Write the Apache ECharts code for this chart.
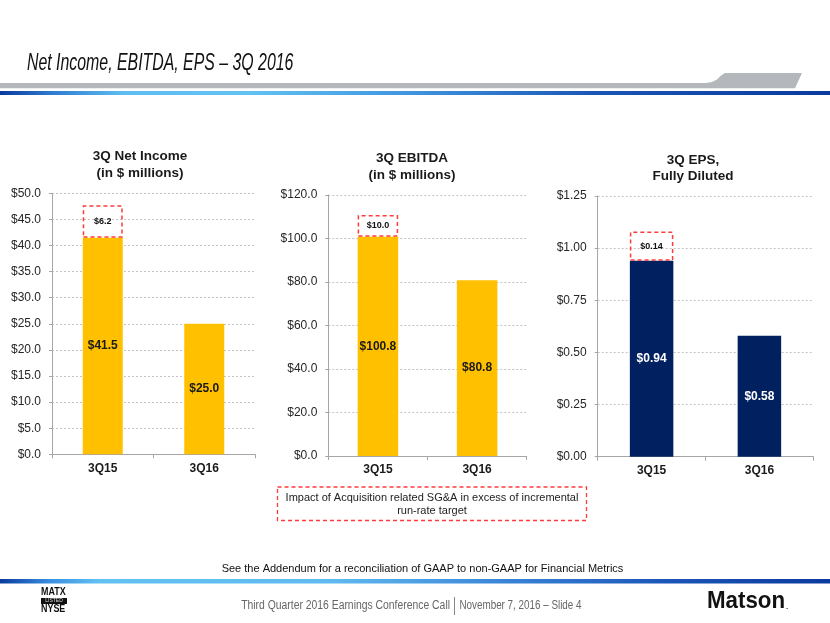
<!DOCTYPE html>
<html>
<head>
<meta charset="utf-8">
<script src="https://cdn.jsdelivr.net/npm/echarts@6/dist/echarts.min.js"></script>
<style>
html,body{margin:0;padding:0;background:#fff;}
#c{width:830px;height:623px;}
</style>
</head>
<body>
<div id="c"></div>
<script>
// ---- data ----
const categories = ['3Q15', '3Q16'];
const netIncome = [41.5, 25.0];
const netIncomeImpact = [6.2, null];
const ebitda = [100.8, 80.8];
const ebitdaImpact = [10.0, null];
const eps = [0.94, 0.58];
const epsImpact = [0.14, null];

const niTicks = ['$0.0','$5.0','$10.0','$15.0','$20.0','$25.0','$30.0','$35.0','$40.0','$45.0','$50.0'];
const ebitdaTicks = ['$0.0','$20.0','$40.0','$60.0','$80.0','$100.0','$120.0'];
const epsTicks = ['$0.00','$0.25','$0.50','$0.75','$1.00','$1.25'];

const chartTitles = ['3Q Net Income\n(in $ millions)', '3Q EBITDA\n(in $ millions)', '3Q EPS,\nFully Diluted'];

// ---- styles ----
const FONT = '"Liberation Sans", Arial, Helvetica, sans-serif';
const GOLD = '#FFC000';
const NAVY = '#002060';
const RED = '#FF3B3B';
const AXIS_GRAY = '#a6a6a6';

function xAxis(gi) {
  return {
    type: 'category', gridIndex: gi, data: categories,
    axisLine: {show: true, lineStyle: {color: AXIS_GRAY, width: 1}},
    axisTick: {show: true, length: 4, lineStyle: {color: AXIS_GRAY}},
    axisLabel: {fontFamily: FONT, fontSize: 12, fontWeight: 'bold', color: '#1a1a1a', margin: 8}
  };
}
function yAxis(gi, ticks, step) {
  return {
    type: 'value', gridIndex: gi, min: 0, max: step * (ticks.length - 1), interval: step,
    axisLine: {show: true, lineStyle: {color: AXIS_GRAY, width: 1}},
    axisTick: {show: true, length: 3, lineStyle: {color: AXIS_GRAY}},
    splitLine: {show: true, lineStyle: {color: '#c4c4c4', type: [2, 2], width: 1}},
    axisLabel: {fontFamily: FONT, fontSize: 12, color: '#262626', margin: 11,
      formatter: function (v) { const i = Math.round(v / step); return ticks[i]; }}
  };
}
function mainSeries(gi, data, stack, width, digits, labelColor, color) {
  return {
    type: 'bar', xAxisIndex: gi, yAxisIndex: gi, stack: stack, data: data, barWidth: width,
    itemStyle: {color: color},
    label: {show: true, position: 'inside', fontFamily: FONT, fontSize: 12, fontWeight: 'bold',
      color: labelColor, textBorderWidth: 0,
      formatter: function (p) { return '$' + Number(p.value).toFixed(digits); }}
  };
}
function impactSeries(gi, data, stack, width, digits) {
  return {
    type: 'bar', xAxisIndex: gi, yAxisIndex: gi, stack: stack, data: data, barWidth: width,
    itemStyle: {color: 'rgba(255,255,255,0)', borderColor: RED, borderWidth: 1.5, borderType: [4, 3]},
    label: {show: true, position: 'inside', fontFamily: FONT, fontSize: 9, fontWeight: 'bold',
      color: '#111', textBorderWidth: 0,
      formatter: function (p) { return p.value == null ? '' : '$' + Number(p.value).toFixed(digits); }}
  };
}

const chart = echarts.init(document.getElementById('c'), null, {renderer: 'canvas'});

const option = {
  animation: false,
  backgroundColor: '#ffffff',
  textStyle: {fontFamily: FONT},
  title: [
    {text: chartTitles[0], left: 135, top: 143, textAlign: 'center',
      textStyle: {fontFamily: FONT, fontSize: 13.5, fontWeight: 'bold', color: '#1a1a1a', lineHeight: 17}},
    {text: chartTitles[1], left: 407, top: 145, textAlign: 'center',
      textStyle: {fontFamily: FONT, fontSize: 13.5, fontWeight: 'bold', color: '#1a1a1a', lineHeight: 17}},
    {text: chartTitles[2], left: 688, top: 147, textAlign: 'center',
      textStyle: {fontFamily: FONT, fontSize: 13.5, fontWeight: 'bold', color: '#1a1a1a', lineHeight: 16}}
  ],
  grid: [
    {left: 52, top: 193.3, width: 203, height: 261},
    {left: 328.3, top: 195, width: 198.4, height: 261},
    {left: 597.7, top: 196, width: 215.6, height: 260.7}
  ],
  xAxis: [xAxis(0), xAxis(1), xAxis(2)],
  yAxis: [yAxis(0, niTicks, 5), yAxis(1, ebitdaTicks, 20), yAxis(2, epsTicks, 0.25)],
  series: [
    mainSeries(0, netIncome, 'ni', 40, 1, '#1a1a1a', GOLD),
    impactSeries(0, netIncomeImpact, 'ni', 40, 1),
    mainSeries(1, ebitda, 'eb', 40.5, 1, '#1a1a1a', GOLD),
    impactSeries(1, ebitdaImpact, 'eb', 40.5, 1),
    mainSeries(2, eps, 'ep', 43.5, 2, '#ffffff', NAVY),
    impactSeries(2, epsImpact, 'ep', 43.5, 2)
  ],
  graphic: [
    // header title
    {type: 'text', x: 27, y: 64, scaleX: 0.69, scaleY: 1, silent: true,
      style: {text: 'Net Income, EBITDA, EPS \u2013 3Q 2016', x: 0, y: 0, fill: '#111',
        font: 'italic 23px ' + FONT, textAlign: 'left', align: 'left', textVerticalAlign: 'middle', verticalAlign: 'middle'}},
    // gray header band
    {type: 'polygon', silent: true,
      shape: {points: [[0, 83], [706, 83], [712, 82], [717, 79.5], [721, 75.5], [725, 73], [802, 73], [795, 88.3], [0, 88.3]]},
      style: {fill: '#b4b8bc'}},
    // blue header line
    {type: 'rect', silent: true, shape: {x: 0, y: 91, width: 830, height: 4},
      style: {fill: {type: 'linear', x: 0, y: 0, x2: 1, y2: 0, colorStops: [
        {offset: 0, color: '#0a3a9e'}, {offset: 0.06, color: '#2d79d0'}, {offset: 0.15, color: '#5fbef0'},
        {offset: 0.3, color: '#62c2f2'}, {offset: 0.5, color: '#3f93de'}, {offset: 0.72, color: '#1a55b6'},
        {offset: 1, color: '#0b3a9e'}]}}},
    // legend box
    {type: 'rect', silent: true, shape: {x: 277.5, y: 487, width: 309, height: 33.5},
      style: {fill: 'rgba(0,0,0,0)', stroke: RED, lineWidth: 1.3, lineDash: [4, 3]}},
    {type: 'text', silent: true,
      style: {text: 'Impact of Acquisition related SG&A in excess of incremental', x: 432, y: 497.5, fill: '#222',
        font: '11px ' + FONT, textAlign: 'center', align: 'center', textVerticalAlign: 'middle', verticalAlign: 'middle'}},
    {type: 'text', silent: true,
      style: {text: 'run-rate target', x: 432, y: 511, fill: '#222',
        font: '11px ' + FONT, textAlign: 'center', align: 'center', textVerticalAlign: 'middle', verticalAlign: 'middle'}},
    // note
    {type: 'text', silent: true,
      style: {text: 'See the Addendum for a reconciliation of GAAP to non-GAAP for Financial Metrics', x: 422.5, y: 569, fill: '#111',
        font: '11px ' + FONT, textAlign: 'center', align: 'center', textVerticalAlign: 'middle', verticalAlign: 'middle'}},
    // footer blue line
    {type: 'rect', silent: true, shape: {x: 0, y: 579, width: 830, height: 4.5},
      style: {fill: {type: 'linear', x: 0, y: 0, x2: 1, y2: 0, colorStops: [
        {offset: 0, color: '#0a3a9e'}, {offset: 0.06, color: '#3a8ee0'}, {offset: 0.12, color: '#62c2f2'},
        {offset: 0.4, color: '#5fbaf0'}, {offset: 0.6, color: '#3a86d8'}, {offset: 0.8, color: '#1c56b8'},
        {offset: 1, color: '#0b3a9e'}]}}},
    // footer text
    {type: 'text', x: 450, y: 606, scaleX: 0.865, silent: true,
      style: {text: 'Third Quarter 2016 Earnings Conference Call', x: 0, y: 0, fill: '#666',
        font: '12px ' + FONT, textAlign: 'right', align: 'right', textVerticalAlign: 'middle', verticalAlign: 'middle'}},
    {type: 'line', silent: true, shape: {x1: 454.5, y1: 597, x2: 454.5, y2: 615}, style: {stroke: '#888', lineWidth: 1}},
    {type: 'text', x: 459.5, y: 606, scaleX: 0.82, silent: true,
      style: {text: 'November 7, 2016 \u2013 Slide 4', x: 0, y: 0, fill: '#666',
        font: '12px ' + FONT, textAlign: 'left', align: 'left', textVerticalAlign: 'middle', verticalAlign: 'middle'}},
    // Matson logo
    {type: 'text', x: 707, y: 601, scaleX: 0.93, silent: true,
      style: {text: 'Matson', x: 0, y: 0, fill: '#111',
        font: 'bold 24px ' + FONT, textAlign: 'left', align: 'left', textVerticalAlign: 'middle', verticalAlign: 'middle'}},
    {type: 'text', silent: true,
      style: {text: '.', x: 786, y: 607, fill: '#333',
        font: 'bold 8px ' + FONT, textAlign: 'left', align: 'left', textVerticalAlign: 'middle', verticalAlign: 'middle'}},
    // MATX / LISTED / NYSE
    {type: 'text', x: 41, y: 592, scaleX: 0.85, silent: true,
      style: {text: 'MATX', x: 0, y: 0, fill: '#111',
        font: 'bold 10.5px ' + FONT, textAlign: 'left', align: 'left', textVerticalAlign: 'middle', verticalAlign: 'middle'}},
    {type: 'rect', silent: true, shape: {x: 41, y: 598, width: 26, height: 6}, style: {fill: '#111'}},
    {type: 'text', silent: true,
      style: {text: 'LISTED', x: 54, y: 601, fill: '#ddd',
        font: '5px ' + FONT, textAlign: 'center', align: 'center', textVerticalAlign: 'middle', verticalAlign: 'middle'}},
    {type: 'text', x: 41, y: 609.5, scaleX: 0.85, silent: true,
      style: {text: 'NYSE', x: 0, y: 0, fill: '#111',
        font: 'bold 10.5px ' + FONT, textAlign: 'left', align: 'left', textVerticalAlign: 'middle', verticalAlign: 'middle'}}
  ]
};
chart.setOption(option);
</script>
</body>
</html>
